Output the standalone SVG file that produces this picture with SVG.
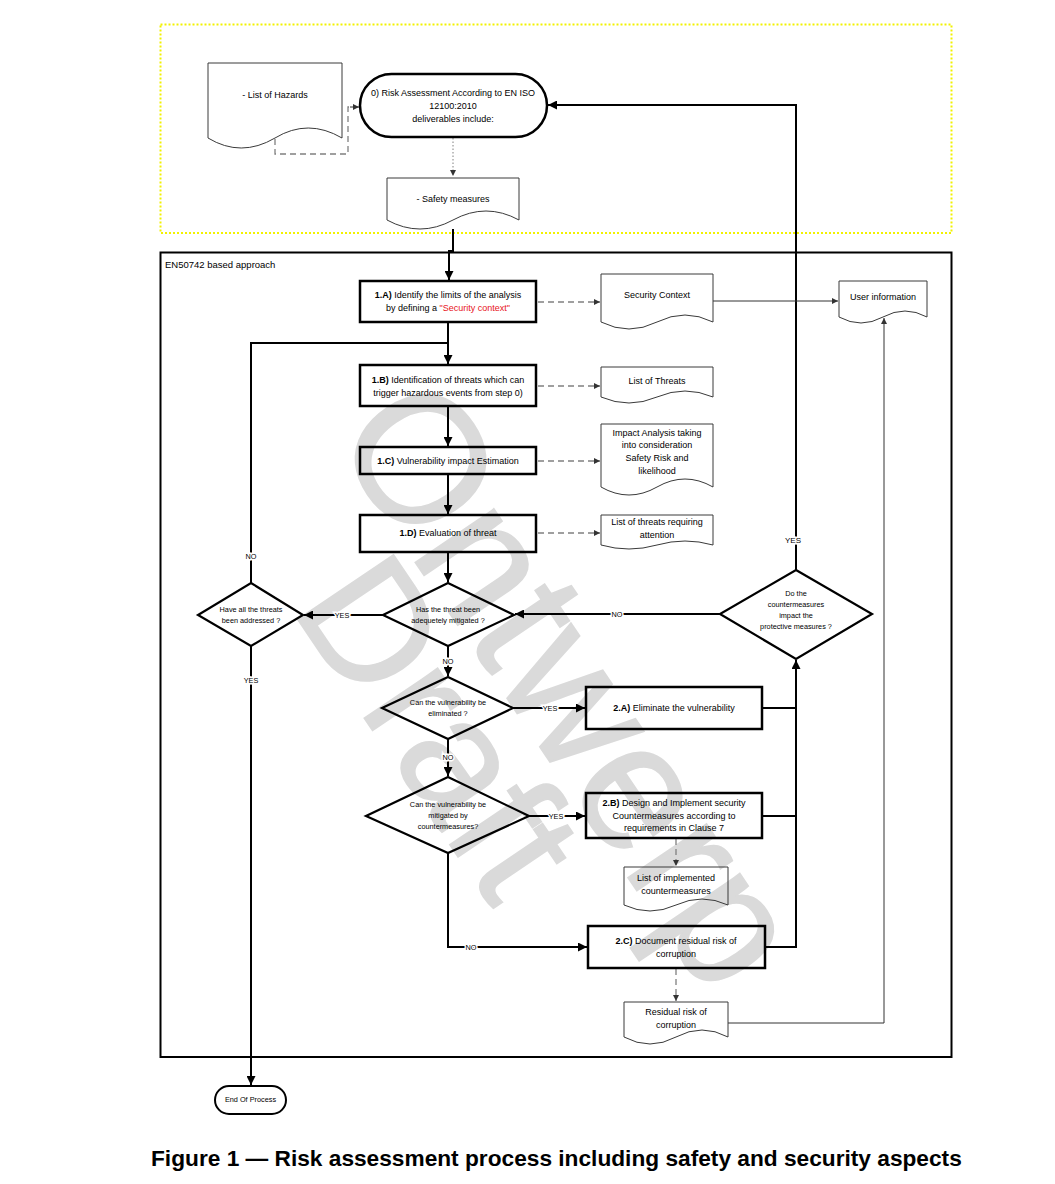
<svg xmlns="http://www.w3.org/2000/svg" width="1055" height="1184" viewBox="0 0 1055 1184">
<style>
text{font-family:"Liberation Sans",Arial,sans-serif;fill:#000;}
.wm{font-size:180px;fill:#dadada;stroke:#dadada;stroke-width:1.5;}
.box{fill:none;stroke:#000;stroke-width:2.5;}
.doc{fill:none;stroke:#3a3a3a;stroke-width:1;}
.dia{fill:none;stroke:#000;stroke-width:2.2;}
.term{fill:none;stroke:#000;stroke-width:2.5;}
.t9{font-size:9px;text-anchor:middle;}
.t7{font-size:7.3px;text-anchor:middle;}
.b{font-weight:bold;}
.flow{fill:none;stroke:#000;stroke-width:2;}
.thin{fill:none;stroke:#333;stroke-width:1;}
.dash{fill:none;stroke:#808080;stroke-width:1.3;stroke-dasharray:6 4;}
.lbl{font-size:7.3px;text-anchor:middle;paint-order:stroke;stroke:#fff;stroke-width:3px;}
</style>
<defs>
<marker id="ah" viewBox="0 0 10 10" refX="10" refY="5" markerWidth="9" markerHeight="9" markerUnits="userSpaceOnUse" orient="auto"><path d="M0,0 L10,5 L0,10 z" fill="#000"/></marker>
<marker id="ahs" viewBox="0 0 10 10" refX="10" refY="5" markerWidth="6" markerHeight="6" markerUnits="userSpaceOnUse" orient="auto"><path d="M0,0 L10,5 L0,10 z" fill="#333"/></marker>
</defs>
<rect width="1055" height="1184" fill="#fff"/>

<g id="watermark">
<text class="wm" transform="translate(330,436) rotate(56)">Ontwerp</text>
<text class="wm" transform="translate(290,608) rotate(56)" style="font-size:168px">Draft</text>
</g>

<g id="frames">
<rect x="160.5" y="24.5" width="791" height="208.5" fill="none" stroke="#f2f200" stroke-width="2" stroke-dasharray="2 2"/>
<rect x="160.5" y="252.5" width="791" height="804.5" fill="none" stroke="#000" stroke-width="2"/>
<text x="165" y="268" style="font-size:9.5px">EN50742 based approach</text>
</g>

<g id="connectors">
<path class="dash" d="M275,139 V154 H348 V107 H357" stroke-dasharray="5 4"/>
<path d="M350,107 H359" fill="none" stroke="#333" stroke-width="1" marker-end="url(#ahs)"/>
<path d="M453,138 V176" fill="none" stroke="#808080" stroke-width="1" stroke-dasharray="1.5 2" marker-end="url(#ahs)"/>
<path class="flow" d="M453,229 V251 H449 V280" marker-end="url(#ah)"/>
<path class="flow" d="M448,322 V364" marker-end="url(#ah)"/>
<path class="flow" d="M251,583 V343 H448"/>
<path class="flow" d="M448,406 V446" marker-end="url(#ah)"/>
<path class="flow" d="M448,474 V514" marker-end="url(#ah)"/>
<path class="flow" d="M448,552 V582" marker-end="url(#ah)"/>
<path class="flow" d="M383,615 H304" marker-end="url(#ah)"/>
<path class="flow" d="M448,646 V676" marker-end="url(#ah)"/>
<path class="flow" d="M448,739 V776" marker-end="url(#ah)"/>
<path class="flow" d="M513,708 H585" marker-end="url(#ah)"/>
<path class="flow" d="M529,816 H585" marker-end="url(#ah)"/>
<path class="flow" d="M448,853 V947 H587" marker-end="url(#ah)"/>
<path class="flow" d="M762,708 H796"/>
<path class="flow" d="M762,816 H796"/>
<path class="flow" d="M765,947 H796 V660" marker-end="url(#ah)"/>
<path class="flow" d="M720,614 H515" marker-end="url(#ah)"/>
<path class="flow" d="M796,570 V105 H548" marker-end="url(#ah)"/>
<path class="flow" d="M251,646 V1085" marker-end="url(#ah)"/>
<path class="dash" d="M538,302 H600" marker-end="url(#ahs)"/>
<path class="dash" d="M538,386 H600" marker-end="url(#ahs)"/>
<path class="dash" d="M538,461 H600" marker-end="url(#ahs)"/>
<path class="dash" d="M538,533 H600" marker-end="url(#ahs)"/>
<path class="dash" d="M676,839 V866" marker-end="url(#ahs)"/>
<path class="dash" d="M676,969 V1001" marker-end="url(#ahs)"/>
<path class="thin" d="M713,301 H838" marker-end="url(#ahs)"/>
<path class="thin" d="M728,1023 H884 V318" marker-end="url(#ahs)"/>
<text class="lbl" x="251" y="559">NO</text>
<text class="lbl" x="251" y="683">YES</text>
<text class="lbl" x="342" y="618">YES</text>
<text class="lbl" x="448" y="664">NO</text>
<text class="lbl" x="448" y="760">NO</text>
<text class="lbl" x="550" y="711">YES</text>
<text class="lbl" x="556" y="819">YES</text>
<text class="lbl" x="471" y="950">NO</text>
<text class="lbl" x="617" y="617">NO</text>
<text class="lbl" x="793" y="543" style="font-size:8px">YES</text>
</g>

<g id="n-hazards">
<path class="doc" d="M208,63 H342 V138 Q308,118 275,138 Q241,158 208,138 Z"/>
<text class="t9" x="275" y="98">- List of Hazards</text>
</g>
<g id="n-step0">
<rect class="term" x="360" y="74" width="187" height="63" rx="31.5"/>
<text class="t9" x="453" y="96">0) Risk Assessment According to EN ISO</text>
<text class="t9" x="453" y="109">12100:2010</text>
<text class="t9" x="453" y="122">deliverables include:</text>
</g>
<g id="n-safety">
<path class="doc" d="M387,178 H519 V220 Q486,202 453,220 Q420,238 387,220 Z"/>
<text class="t9" x="453" y="202">- Safety measures</text>
</g>
<g id="n-1a">
<rect class="box" x="360" y="281" width="176" height="41"/>
<text class="t9" x="448" y="298"><tspan class="b">1.A)</tspan> Identify the limits of the analysis</text>
<text class="t9" x="448" y="311">by defining a <tspan fill="#e8141b">"Security context"</tspan></text>
</g>
<g id="n-secctx">
<path class="doc" d="M601,274 H713 V322 Q685,308 657,322 Q629,336 601,322 Z"/>
<text class="t9" x="657" y="298">Security Context</text>
</g>
<g id="n-userinfo">
<path class="doc" d="M839,281 H927 V317 Q905,305 883,317 Q861,329 839,317 Z"/>
<text class="t9" x="883" y="300">User information</text>
</g>
<g id="n-1b">
<rect class="box" x="360" y="365" width="176" height="41"/>
<text class="t9" x="448" y="383"><tspan class="b">1.B)</tspan> Identification of threats which can</text>
<text class="t9" x="448" y="396">trigger hazardous events from step 0)</text>
</g>
<g id="n-threats">
<path class="doc" d="M601,367 H713 V397 Q685,385 657,397 Q629,409 601,397 Z"/>
<text class="t9" x="657" y="384">List of Threats</text>
</g>
<g id="n-1c">
<rect class="box" x="360" y="447" width="176" height="27"/>
<text class="t9" x="448" y="464"><tspan class="b">1.C)</tspan> Vulnerability impact  Estimation</text>
</g>
<g id="n-impact">
<path class="doc" d="M601,424 H713 V487 Q685,471 657,487 Q629,503 601,487 Z"/>
<text class="t9" x="657" y="436">Impact Analysis taking</text>
<text class="t9" x="657" y="448">into consideration</text>
<text class="t9" x="657" y="461">Safety Risk and</text>
<text class="t9" x="657" y="474">likelihood</text>
</g>
<g id="n-1d">
<rect class="box" x="360" y="515" width="176" height="37" stroke-width="2"/>
<text class="t9" x="448" y="536"><tspan class="b">1.D)</tspan> Evaluation of threat</text>
</g>
<g id="n-attention">
<path class="doc" d="M601,515 H713 V545 Q685,537 657,545 Q629,553 601,545 Z"/>
<text class="t9" x="657" y="525">List of threats requiring</text>
<text class="t9" x="657" y="538">attention</text>
</g>
<g id="n-mitigated">
<path class="dia" d="M448,583 L514,615 L448,646 L383,615 Z"/>
<text class="t7" x="448" y="612">Has the threat been</text>
<text class="t7" x="448" y="623">adequetely mitigated ?</text>
</g>
<g id="n-alladdressed">
<path class="dia" d="M251,583 L303,615 L251,646 L198,615 Z"/>
<text class="t7" x="251" y="612">Have all the threats</text>
<text class="t7" x="251" y="623">been addressed ?</text>
</g>
<g id="n-impactprot">
<path class="dia" d="M796,570 L872,614 L796,659 L720,614 Z"/>
<text class="t7" x="796" y="596">Do the</text>
<text class="t7" x="796" y="607">countermeasures</text>
<text class="t7" x="796" y="618">impact the</text>
<text class="t7" x="796" y="629">protective measures ?</text>
</g>
<g id="n-eliminated">
<path class="dia" d="M448,677 L513,708 L448,739 L382,708 Z"/>
<text class="t7" x="448" y="705">Can the vulnerability be</text>
<text class="t7" x="448" y="716">eliminated ?</text>
</g>
<g id="n-2a">
<rect class="box" x="586" y="687" width="176" height="42" stroke-width="2"/>
<text class="t9" x="674" y="711"><tspan class="b">2.A)</tspan> Eliminate the vulnerability</text>
</g>
<g id="n-countermeasures">
<path class="dia" d="M448,777 L529,816 L448,853 L366,816 Z"/>
<text class="t7" x="448" y="807">Can the vulnerability be</text>
<text class="t7" x="448" y="818">mitigated by</text>
<text class="t7" x="448" y="829">countermeasures?</text>
</g>
<g id="n-2b">
<rect class="box" x="586" y="793" width="176" height="45" stroke-width="2"/>
<text class="t9" x="674" y="806"><tspan class="b">2.B)</tspan> Design and Implement security</text>
<text class="t9" x="674" y="819">Countermeasures according to</text>
<text class="t9" x="674" y="831">requirements in Clause 7</text>
</g>
<g id="n-implemented">
<path class="doc" d="M624,867 H728 V905 Q702,893 676,905 Q650,917 624,905 Z"/>
<text class="t9" x="676" y="881">List of implemented</text>
<text class="t9" x="676" y="894">countermeasures</text>
</g>
<g id="n-2c">
<rect class="box" x="588" y="926" width="177" height="42"/>
<text class="t9" x="676" y="944"><tspan class="b">2.C)</tspan> Document residual risk of</text>
<text class="t9" x="676" y="957">corruption</text>
</g>
<g id="n-residual">
<path class="doc" d="M624,1002 H728 V1037 Q702,1023 676,1037 Q650,1051 624,1037 Z"/>
<text class="t9" x="676" y="1015">Residual risk of</text>
<text class="t9" x="676" y="1028">corruption</text>
</g>
<g id="n-end">
<rect x="215" y="1086" width="71" height="28" rx="14" fill="none" stroke="#000" stroke-width="2"/>
<text class="t7" x="250.5" y="1102">End Of Process</text>
</g>

<text x="151" y="1166" style="font-size:22.7px;font-weight:bold;fill:#000">Figure 1 — Risk assessment process including safety and security aspects</text>
</svg>
